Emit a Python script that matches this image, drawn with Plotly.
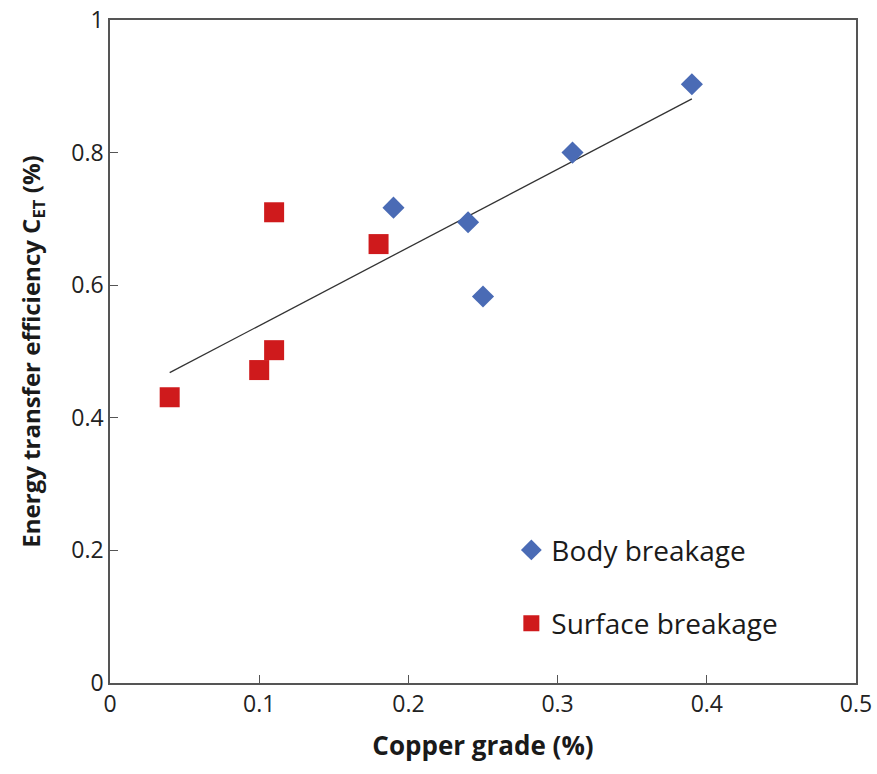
import numpy as np
import plotly.graph_objects as go

body_x = [0.19, 0.24, 0.25, 0.31, 0.39]
body_y = [0.717, 0.695, 0.583, 0.80, 0.903]
surf_x = [0.04, 0.10, 0.11, 0.11, 0.18]
surf_y = [0.431, 0.472, 0.502, 0.710, 0.662]
x_ticks = [0, 0.1, 0.2, 0.3, 0.4, 0.5]
x_labels = ["0", "0.1", "0.2", "0.3", "0.4", "0.5"]
y_ticks = [0, 0.2, 0.4, 0.6, 0.8, 1]
y_labels = ["0", "0.2", "0.4", "0.6", "0.8", "1"]

all_x = np.array(body_x + surf_x)
all_y = np.array(body_y + surf_y)
slope, intercept = np.polyfit(all_x, all_y, 1)
fit_x = np.array([all_x.min(), all_x.max()])
fit_y = slope * fit_x + intercept

FONT = "Open Sans, Liberation Sans, sans-serif"

fig = go.Figure()
fig.add_trace(go.Scatter(x=fit_x, y=fit_y, mode="lines",
                         line=dict(color="#333333", width=1.3),
                         showlegend=False, hoverinfo="skip"))
fig.add_trace(go.Scatter(x=body_x, y=body_y, mode="markers", name="Body breakage",
                         legendgroup="a",
                         marker=dict(symbol="diamond", size=17, color="#4a6bb5")))
fig.add_trace(go.Scatter(x=surf_x, y=surf_y, mode="markers", name="Surface breakage",
                         legendgroup="b",
                         marker=dict(symbol="square", size=20, color="#cf1a1c")))

fig.update_layout(
    width=877, height=774,
    margin=dict(l=110, r=21, t=20, b=91),
    plot_bgcolor="white", paper_bgcolor="white",
    font=dict(family=FONT, color="#1a1a1a"),
    legend=dict(x=0.538, y=0.238, xanchor="left", yanchor="top",
                font=dict(size=28, family=FONT, color="#1a1a1a"),
                bgcolor="rgba(0,0,0,0)", tracegroupgap=34,
                traceorder="grouped"),
    xaxis=dict(range=[0, 0.5], tickvals=x_ticks, ticktext=x_labels,
               showgrid=False, zeroline=False, showline=True, mirror=True,
               linecolor="#555555", linewidth=1.5, automargin=False,
               ticks="inside", ticklen=8, tickcolor="#555555",
               tickfont=dict(size=23, color="#222222"),
               title=dict(text="<b>Copper grade (%)</b>", font=dict(size=26, color="#1a1a1a"),
                          standoff=18)),
    yaxis=dict(range=[0, 1], tickvals=y_ticks, ticktext=y_labels,
               showgrid=False, zeroline=False, showline=True, mirror=True,
               linecolor="#555555", linewidth=1.5, automargin=False,
               ticks="inside", ticklen=8, tickcolor="#555555",
               tickfont=dict(size=23, color="#222222"),
               title=dict(text="<b>Energy transfer efficiency C<sub>ET</sub> (%)</b>",
                          font=dict(size=24, color="#1a1a1a"), standoff=24)),
)

fig.write_html("out.html", config={"displayModeBar": False},
               post_script="document.body.style.margin='0';document.body.style.padding='0';")
